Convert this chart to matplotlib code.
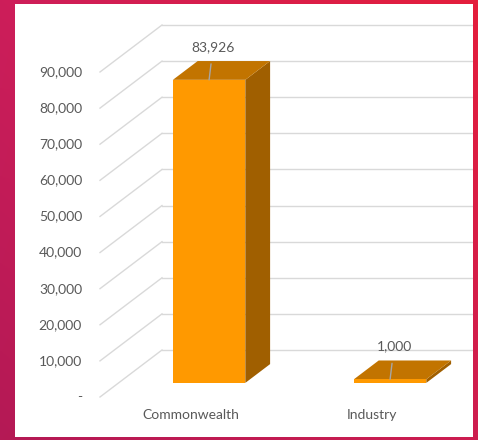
import matplotlib
matplotlib.use("Agg")
import matplotlib.pyplot as plt
from matplotlib.patches import Polygon, Rectangle
import numpy as np

# ===== data =====
categories = ["Commonwealth", "Industry"]
values = [83926, 1000]
tick_values = list(range(0, 90001, 10000))
tick_labels = ["-" if t == 0 else f"{t:,}" for t in tick_values]

# ===== layout (pixels of the 478x440 picture) =====
W, H = 478, 440
PANEL = (15, 4, 473, 437)          # white panel: left, top, right, bottom
FRONT_X0 = 100                      # front floor left edge
CAT_PX = 181                        # px per category
ZERO_Y = 397                        # px of value 0 on the front plane
TOP_Y = 72                          # px of 90,000 on the front plane
DEPTH_PX = (62, -47)                # oblique depth offset of the floor

px_per_val = (ZERO_Y - TOP_Y) / 90000
DX = DEPTH_PX[0] / CAT_PX
DY = -DEPTH_PX[1] / px_per_val
BAR_W = 0.4
F0, F1 = 0.3, 0.7                   # bar depth span (fraction of floor depth)

FRONT = "#ff9900"
TOP = "#c27400"
SIDE = "#a05f00"
GRID = "#d9d9d9"
TXT = "#595959"
FONT = "Lato"

fig = plt.figure(figsize=(W / 100, H / 100), dpi=100)

# background gradient, corner colours
bg = fig.add_axes([0, 0, 1, 1], zorder=-5)
gx, gy = np.meshgrid(np.linspace(0, 1, 200), np.linspace(0, 1, 200))
gx, gy = gx[..., None], gy[..., None]
tl_c = np.array([205, 30, 90]) / 255
tr_c = np.array([228, 30, 60]) / 255
bl_c = np.array([180, 25, 85]) / 255
br_c = np.array([205, 30, 80]) / 255
img = (tl_c * (1 - gx) * (1 - gy) + tr_c * gx * (1 - gy)
       + bl_c * (1 - gx) * gy + br_c * gx * gy)
bg.imshow(img, aspect="auto", extent=[0, 1, 0, 1])
bg.axis("off")

# main axes = white panel, data coords: x in categories, y in values
l, tp, r, b = PANEL
ax = fig.add_axes([l / W, (H - b) / H, (r - l) / W, (b - tp) / H])
ax.set_facecolor("white")
ax.set_xlim((l - FRONT_X0) / CAT_PX, (r - FRONT_X0) / CAT_PX)
ax.set_ylim((ZERO_Y - b) / px_per_val, (ZERO_Y - tp) / px_per_val)
for s in ax.spines.values():
    s.set_visible(False)
ax.set_xticks([])
ax.set_yticks([])

n = len(categories)

# gridlines: side wall diagonals + back wall horizontals
for tv, tl in zip(tick_values, tick_labels):
    ax.plot([0, DX], [tv, tv + DY], color=GRID, lw=1, zorder=1)
    ax.plot([DX, n + DX], [tv + DY, tv + DY], color=GRID, lw=1, zorder=1)
    ax.annotate(tl, (0, tv), xytext=(-18, 0), textcoords="offset pixels",
                ha="right", va="center", fontsize=10, color=TXT,
                family=FONT, annotation_clip=False)

# bars
for i, (cat, v) in enumerate(zip(categories, values)):
    x0 = i + 0.5 - BAR_W / 2
    x1 = i + 0.5 + BAR_W / 2
    ox0, oy0 = F0 * DX, F0 * DY
    ox1, oy1 = F1 * DX, F1 * DY
    side = [(x1 + ox0, oy0), (x1 + ox1, oy1), (x1 + ox1, v + oy1), (x1 + ox0, v + oy0)]
    top = [(x0 + ox0, v + oy0), (x1 + ox0, v + oy0), (x1 + ox1, v + oy1), (x0 + ox1, v + oy1)]
    ax.add_patch(Polygon(side, closed=True, fc=SIDE, ec="none", zorder=3))
    ax.add_patch(Polygon(top, closed=True, fc=TOP, ec="none", zorder=3))
    ax.add_patch(Rectangle((x0 + ox0, oy0), BAR_W, v, fc=FRONT, ec="none", zorder=4))

    # data label with leader line
    cx = i + 0.5 + ox0
    cy = v + oy0
    ax.annotate(f"{v:,}", (cx, cy), xytext=(4, 33), textcoords="offset pixels",
                ha="center", va="center", fontsize=10, color=TXT, family=FONT,
                arrowprops=dict(arrowstyle="-", color="#a6a6a6", lw=1,
                                shrinkA=6, shrinkB=0), zorder=6)

    # category label on the front floor edge
    ax.annotate(cat, (i + 0.5, 0), xytext=(0, -18), textcoords="offset pixels",
                ha="center", va="center", fontsize=10, color=TXT, family=FONT,
                annotation_clip=False)

fig.savefig("out.png", dpi=100)
